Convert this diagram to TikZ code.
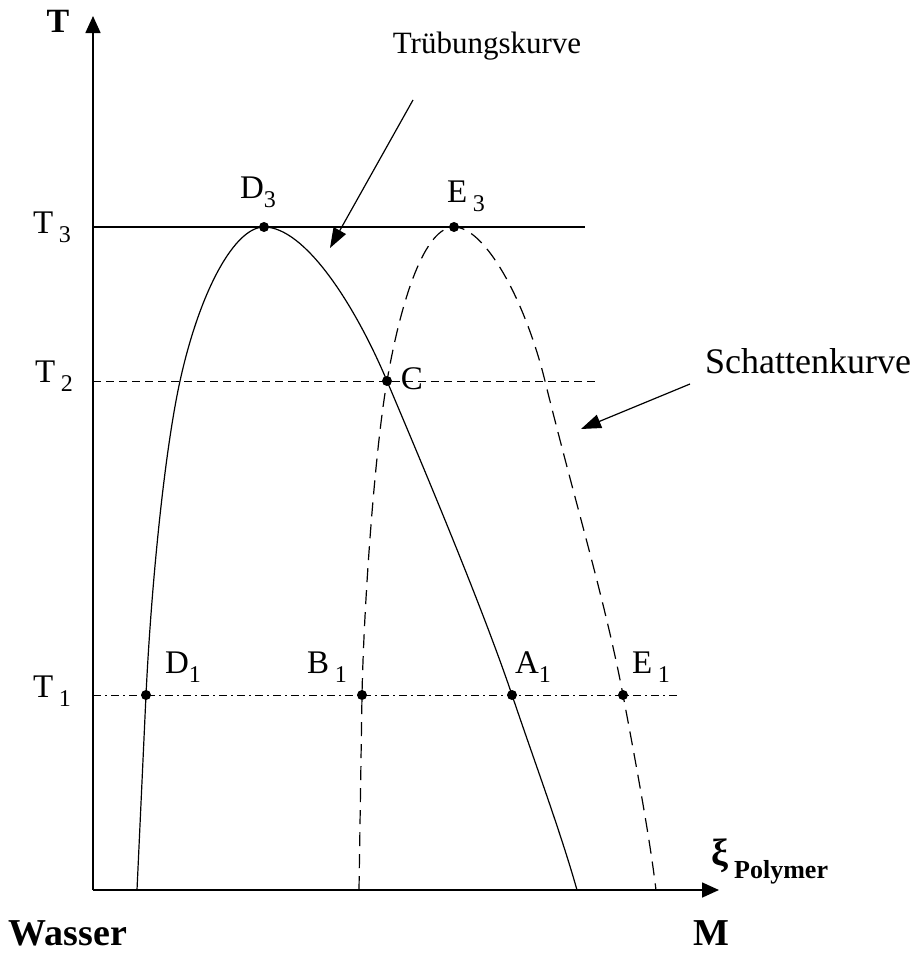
\documentclass[tikz,border=0pt]{standalone}
\usepackage{fontspec}
\setmainfont{Liberation Serif}
\usetikzlibrary{arrows.meta}
\newcommand\idx[2]{#1\raisebox{-9pt}{\fontsize{24}{24}\selectfont #2}}

\begin{document}
\begin{tikzpicture}[
 x=1pt,y=-1pt,
 dot/.style={circle,fill,inner sep=0pt,minimum size=10pt},
 lbl/.style={font=\fontsize{33}{33}\selectfont,inner sep=0pt},
 bl/.style={font=\fontsize{34}{34}\selectfont\bfseries,inner sep=0pt},
 ax/.style={line width=1.6pt,-{Triangle[length=17pt,width=15pt]}},
 crv/.style={line width=1.2pt},
 a/.style={-{Triangle[length=20pt,width=14pt]},line width=1.2pt}
]
\useasboundingbox (0,0) rectangle (918,953);
% axes
\coordinate (o) at (93,890);
\coordinate (ytop) at (93,16);
\coordinate (xend) at (719,890);
\draw[ax] (o)--(ytop);
\draw[ax] (o)--(xend);
\node[bl] (tlab) at (58,21) {T};
\node[bl,font=\fontsize{38}{38}\selectfont\bfseries,anchor=west] (xi) at (711,856) {ξ};
\node[bl,font=\fontsize{26}{26}\selectfont\bfseries,anchor=west] (poly) at (734,872) {Polymer};
\node[bl,font=\fontsize{38}{38}\selectfont\bfseries] (wasser) at (68,933) {Wasser};
\node[bl,font=\fontsize{38}{38}\selectfont\bfseries] (mlab) at (711,933) {M};
% temperature lines
\coordinate (t3e) at (585,227);
\coordinate (t2e) at (595,381);
\coordinate (t1e) at (680,695);
\draw[line width=1.2pt] (93,227)--(t3e);
\draw[line width=1pt,dash pattern=on 8pt off 5pt] (93,381)--(t2e);
\draw[line width=1pt,dash pattern=on 8pt off 4pt on 2pt off 4pt] (93,695)--(t1e);
\node[lbl] (t3) at (52,227) {\idx{T\,}{3}};
\node[lbl] (t2) at (54,376) {\idx{T\,}{2}};
\node[lbl] (t1) at (52,691) {\idx{T\,}{1}};
% points
\node[dot] (d3) at (264,227) {};
\node[dot] (e3) at (454,227) {};
\node[dot] (c) at (387,381) {};
\node[dot] (d1) at (146,695) {};
\node[dot] (b1) at (362,695) {};
\node[dot] (a1) at (512,695) {};
\node[dot] (e1) at (623,695) {};
% Truebungskurve
\draw[crv] (137,890) .. controls (140,825) and (143,760) .. (d1.center)
  .. controls (151,590) and (164,454) .. (180,381)
  .. controls (200,290) and (235,227) .. (d3.center)
  .. controls (305,227) and (355,305) .. (c.center)
  .. controls (412.6,441.8) and (480,600) .. (a1.center)
  .. controls (534.4,761.5) and (560,830) .. (577,890);
% Schattenkurve
\draw[crv,dash pattern=on 14pt off 8pt] (359,890) .. controls (360,825) and (361,760) .. (b1.center)
  .. controls (364,600) and (375,450) .. (c.center)
  .. controls (401.4,298) and (425,227) .. (e3.center)
  .. controls (485,227) and (525,300) .. (545,381)
  .. controls (575,502.5) and (605,600) .. (e1.center)
  .. controls (637.4,771) and (650,840) .. (656,890);
% labels
\node[lbl] (ld3) at (258,192) {\idx{D}{3}};
\node[lbl] (le3) at (466,196) {\idx{E\,}{3}};
\node[lbl] (lc) at (412,379) {C};
\node[lbl] (ld1) at (183,667) {\idx{D}{1}};
\node[lbl] (lb1) at (327,667) {\idx{B\,}{1}};
\node[lbl] (la1) at (533,667) {\idx{A}{1}};
\node[lbl] (le1) at (651,667) {\idx{E\,}{1}};
\node[lbl,font=\fontsize{31}{31}\selectfont] (trueb) at (487,46) {Trübungskurve};
\node[lbl,font=\fontsize{36}{36}\selectfont] (schat) at (808,361) {Schattenkurve};
\coordinate (tr0) at (413,100);
\coordinate (tr1) at (330,248);
\coordinate (sc0) at (690,384);
\coordinate (sc1) at (581,429);
\draw[a] (tr0)--(tr1);
\draw[a] (sc0)--(sc1);
\end{tikzpicture}
\end{document}
